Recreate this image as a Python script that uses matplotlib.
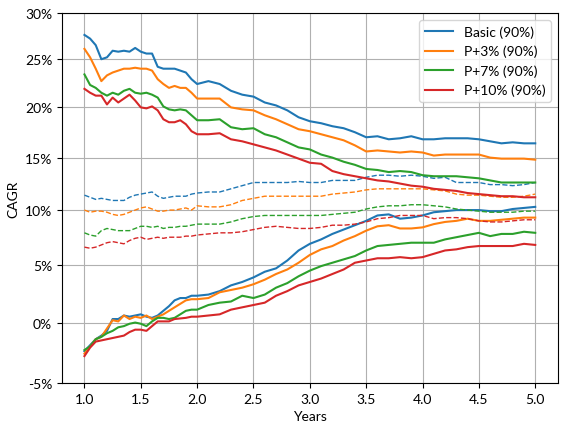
import numpy as np
import matplotlib
matplotlib.use("Agg")
import matplotlib.pyplot as plt
from matplotlib.ticker import FixedLocator, FuncFormatter

plt.rcParams['font.family'] = ['Lato', 'DejaVu Sans']
plt.rcParams['axes.unicode_minus'] = False

# years axis: 0.05 steps up to 2.0, then 0.1 steps
years = [1.0, 1.05, 1.1, 1.15, 1.2, 1.25, 1.3, 1.35, 1.4, 1.45, 1.5, 1.55, 1.6, 1.65, 1.7,
         1.75, 1.8, 1.85, 1.9, 1.95, 2.0,
         2.1, 2.2, 2.3, 2.4, 2.5, 2.6, 2.7, 2.8, 2.9, 3.0, 3.1, 3.2, 3.3, 3.4, 3.5, 3.6,
         3.7, 3.8, 3.9, 4.0, 4.1, 4.2, 4.3, 4.4, 4.5, 4.6, 4.7, 4.8, 4.9, 5.0]

labels = ['Basic (90%)', 'P+3% (90%)', 'P+7% (90%)', 'P+10% (90%)']

# upper band (%)
basic_hi = [27.6, 27.2, 26.5, 25.0, 25.2, 25.9, 25.8, 25.9, 25.8, 26.2, 25.8, 25.6, 25.6, 24.2, 24.0,
            24.0, 24.0, 23.8, 23.6, 22.9, 22.4,
            22.7, 22.4, 21.7, 21.3, 21.1, 20.5, 20.2, 19.7, 19.0, 18.6, 18.4, 18.1, 17.9, 17.5, 17.0, 17.1,
            16.8, 16.9, 17.1, 16.8, 16.8, 16.9, 16.9, 16.9, 16.8, 16.6, 16.4, 16.5, 16.4, 16.4]
p3_hi = [26.1, 25.2, 24.0, 22.7, 23.3, 23.6, 23.8, 24.0, 24.0, 24.1, 24.0, 24.0, 23.8, 22.9, 22.4,
         22.0, 22.2, 22.0, 22.0, 21.5, 20.9,
         20.9, 20.9, 20.0, 19.8, 19.7, 19.2, 18.8, 18.3, 17.8, 17.6, 17.3, 17.0, 16.7, 16.2, 15.6, 15.7,
         15.6, 15.5, 15.6, 15.5, 15.2, 15.3, 15.3, 15.3, 15.3, 15.0, 14.9, 14.9, 14.9, 14.8]
p7_hi = [23.4, 22.3, 22.0, 21.5, 21.2, 21.5, 21.3, 21.7, 21.9, 21.5, 21.4, 21.5, 21.3, 21.0, 20.1,
         19.8, 19.7, 19.8, 19.7, 19.2, 18.7,
         18.7, 18.8, 18.0, 17.8, 17.9, 17.3, 17.0, 16.5, 16.0, 15.8, 15.3, 15.0, 14.6, 14.3, 13.9, 13.8,
         13.6, 13.7, 13.6, 13.3, 13.2, 13.2, 13.2, 13.1, 13.0, 12.8, 12.6, 12.6, 12.6, 12.6]
p10_hi = [21.9, 21.5, 21.2, 21.2, 20.3, 21.0, 20.5, 20.9, 21.3, 20.7, 20.0, 19.9, 20.1, 19.7, 18.8,
          18.5, 18.5, 18.7, 18.3, 17.6, 17.3,
          17.3, 17.4, 16.8, 16.6, 16.3, 16.0, 15.7, 15.3, 14.9, 14.5, 14.4, 13.7, 13.4, 13.2, 13.0, 12.8,
          12.7, 12.5, 12.3, 12.2, 12.0, 11.9, 11.8, 11.6, 11.5, 11.4, 11.3, 11.3, 11.2, 11.2]

# median (%)
basic_med = [11.4, 11.2, 11.0, 11.1, 11.0, 10.9, 10.9, 10.9, 11.2, 11.4, 11.5, 11.6, 11.7, 11.3, 11.1,
             11.2, 11.3, 11.3, 11.3, 11.5, 11.6,
             11.7, 11.7, 12.0, 12.3, 12.6, 12.6, 12.6, 12.6, 12.7, 12.6, 12.6, 12.8, 12.8, 12.8, 13.1, 13.3,
             13.3, 13.2, 13.3, 13.2, 13.0, 13.1, 12.6, 12.6, 12.6, 12.4, 12.4, 12.3, 12.4, 12.6]
p3_med = [10.0, 9.8, 9.9, 9.9, 9.8, 9.6, 9.5, 9.6, 9.8, 10.0, 10.2, 10.3, 10.1, 9.9, 9.9,
          10.0, 10.0, 10.1, 10.2, 10.0, 10.4,
          10.3, 10.3, 10.5, 10.9, 11.1, 11.3, 11.3, 11.3, 11.3, 11.3, 11.3, 11.5, 11.6, 11.7, 11.9, 12.0,
          12.0, 12.0, 12.0, 12.0, 11.9, 11.8, 11.5, 11.4, 11.4, 11.3, 11.2, 11.2, 11.3, 11.5]
p7_med = [7.9, 7.7, 7.6, 8.1, 8.3, 8.2, 8.1, 8.1, 8.1, 8.3, 8.5, 8.5, 8.4, 8.5, 8.3,
          8.4, 8.4, 8.5, 8.5, 8.6, 8.7,
          8.7, 8.7, 8.9, 9.2, 9.4, 9.5, 9.5, 9.5, 9.5, 9.5, 9.5, 9.6, 9.7, 9.8, 10.1, 10.3,
          10.4, 10.4, 10.5, 10.5, 10.4, 10.3, 10.1, 10.0, 9.9, 9.8, 9.8, 9.8, 9.9, 9.9]
p10_med = [6.6, 6.5, 6.6, 6.8, 7.0, 7.1, 7.0, 6.9, 7.2, 7.4, 7.5, 7.3, 7.4, 7.5, 7.4,
           7.5, 7.5, 7.5, 7.6, 7.6, 7.7,
           7.8, 7.9, 7.9, 8.0, 8.2, 8.4, 8.5, 8.4, 8.3, 8.3, 8.4, 8.6, 8.6, 8.7, 8.9, 9.2,
           9.3, 9.5, 9.5, 9.5, 9.2, 9.3, 9.3, 9.2, 9.0, 8.9, 8.9, 9.0, 9.1, 9.1]

# lower band (%)
basic_lo = [-2.4, -1.9, -1.4, -1.1, -0.7, 0.3, 0.3, 0.6, 0.5, 0.6, 0.7, 0.5, 0.4, 0.6, 1.0,
            1.4, 1.9, 2.1, 2.1, 2.3, 2.3,
            2.4, 2.7, 3.2, 3.5, 3.9, 4.4, 4.7, 5.4, 6.3, 6.9, 7.3, 7.8, 8.2, 8.6, 9.0, 9.5,
            9.6, 9.2, 9.3, 9.5, 9.8, 9.9, 10.0, 10.0, 10.0, 9.9, 9.9, 10.1, 10.2, 10.3]
p3_lo = [-2.6, -2.0, -1.4, -1.2, -0.5, 0.2, 0.1, 0.6, 0.3, 0.5, 0.4, 0.6, 0.3, 0.5, 0.7,
         1.0, 1.3, 1.6, 1.9, 2.0, 2.0,
         2.1, 2.6, 2.8, 3.0, 3.3, 3.7, 4.2, 4.6, 5.2, 5.9, 6.4, 6.7, 7.2, 7.6, 8.1, 8.5,
         8.6, 8.3, 8.3, 8.4, 8.7, 8.9, 9.0, 9.2, 9.0, 9.0, 9.1, 9.2, 9.3, 9.3]
p7_lo = [-2.3, -2.0, -1.4, -1.2, -0.9, -0.7, -0.4, -0.3, -0.1, 0.0, -0.1, -0.3, 0.1, 0.4, 0.4,
         0.3, 0.4, 0.7, 1.0, 1.1, 1.1,
         1.5, 1.7, 1.8, 2.3, 2.1, 2.4, 3.0, 3.4, 4.0, 4.5, 4.9, 5.2, 5.5, 5.8, 6.3, 6.7,
         6.8, 6.9, 7.0, 7.0, 7.0, 7.3, 7.5, 7.7, 7.9, 7.6, 7.8, 7.8, 8.0, 7.9]
p10_lo = [-2.8, -2.1, -1.6, -1.5, -1.4, -1.3, -1.2, -1.1, -0.8, -0.6, -0.6, -0.7, -0.3, 0.1, 0.1,
          0.1, 0.3, 0.35, 0.4, 0.5, 0.5,
          0.6, 0.7, 1.1, 1.3, 1.5, 1.7, 2.3, 2.7, 3.2, 3.5, 3.8, 4.2, 4.6, 5.2, 5.4, 5.6,
          5.6, 5.7, 5.6, 5.7, 6.0, 6.3, 6.4, 6.6, 6.7, 6.7, 6.7, 6.7, 6.9, 6.8]

colors = ['#1f77b4', '#ff7f0e', '#2ca02c', '#d62728']
highs = [basic_hi, p3_hi, p7_hi, p10_hi]
meds = [basic_med, p3_med, p7_med, p10_med]
lows = [basic_lo, p3_lo, p7_lo, p10_lo]

fig = plt.figure(figsize=(5.68, 4.35), dpi=100)
ax = fig.add_axes([0.109, 0.117, 0.873, 0.851])

# CAGR shown on a log(1+r) scale
ax.set_yscale('function', functions=(lambda r: np.log1p(np.asarray(r)),
                                     lambda y: np.expm1(np.asarray(y))))

x = np.array(years)
for hi, med, lo, c, lab in zip(highs, meds, lows, colors, labels):
    ax.plot(x, np.array(hi) / 100, color=c, lw=1.5, label=lab)
    ax.plot(x, np.array(med) / 100, color=c, lw=1.0, ls='--')
    ax.plot(x, np.array(lo) / 100, color=c, lw=1.5)

ax.set_ylim(-0.05, 0.30)
ax.yaxis.set_major_locator(FixedLocator(np.arange(-0.05, 0.301, 0.05)))
ax.yaxis.set_minor_locator(FixedLocator([]))
ax.yaxis.set_major_formatter(FuncFormatter(lambda v, p: f"{v * 100:.0f}%"))
ax.set_xticks(np.arange(1.0, 5.01, 0.5))
ax.grid(True, color='#b0b0b0', lw=0.8)
ax.set_xlabel('Years')
ax.set_ylabel('CAGR')
ax.legend(loc='upper right')

fig.savefig('out.png', dpi=100)
